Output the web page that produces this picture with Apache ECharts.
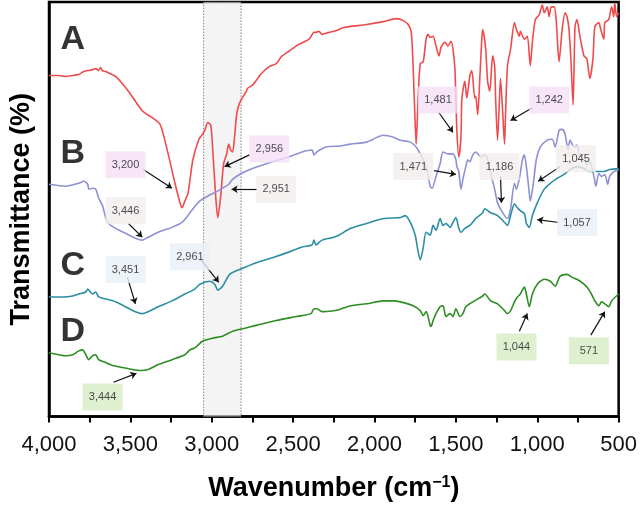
<!DOCTYPE html>
<html><head><meta charset="utf-8">
<script src="https://cdn.jsdelivr.net/npm/echarts@6/dist/echarts.min.js"></script>
<style>html,body{margin:0;padding:0;background:#fff}#c{width:640px;height:507px}</style>
</head><body><div id="c"></div>
<script>
// ---- data: [wavenumber (cm-1), transmittance (arbitrary, offset spectra)] ----
const spectrumA = [[4000,348],[3939,348],[3896,347],[3854,348],[3817,349],[3787,352],[3762,353],[3732,354],[3713,355],[3695,353],[3683,356],[3671,353],[3652,352],[3591,347],[3512,332],[3427,312],[3366,305],[3317,298],[3268,268],[3226,238],[3195,218],[3183,213],[3165,220],[3146,228],[3116,262],[3079,283],[3061,287],[3043,292],[3024,300],[3006,297],[2994,272],[2976,225],[2963,203],[2945,225],[2927,258],[2908,268],[2896,278],[2884,272],[2872,270],[2860,285],[2847,308],[2829,320],[2787,332],[2780,335],[2750,338],[2695,350],[2646,357],[2604,360],[2573,367],[2524,373],[2463,380],[2402,385],[2372,392],[2360,392],[2341,393],[2323,390],[2280,392],[2232,394],[2189,397],[2049,400],[1945,403],[1866,406],[1823,404],[1793,400],[1774,392],[1763,358],[1750,298],[1744,278],[1732,325],[1719,360],[1701,362],[1683,385],[1671,390],[1658,387],[1640,388],[1622,378],[1604,368],[1591,377],[1567,382],[1549,378],[1530,383],[1518,375],[1506,355],[1494,292],[1482,265],[1469,285],[1463,325],[1445,342],[1433,325],[1414,348],[1402,353],[1384,325],[1378,327],[1366,308],[1353,345],[1341,385],[1335,395],[1317,375],[1305,342],[1292,332],[1274,368],[1262,358],[1256,325],[1244,282],[1232,325],[1226,345],[1213,312],[1201,278],[1195,308],[1183,358],[1164,375],[1140,402],[1128,395],[1110,388],[1104,393],[1079,385],[1061,388],[1043,358],[1030,382],[1012,405],[988,410],[969,420],[957,412],[939,418],[927,408],[914,418],[896,418],[884,405],[866,362],[847,395],[829,412],[817,408],[805,395],[792,360],[780,318],[768,398],[756,405],[738,388],[713,368],[695,365],[677,345],[658,365],[646,398],[622,402],[610,395],[591,385],[585,402],[561,405],[543,418],[530,408],[524,422],[512,408],[500,412]];
const spectrumB = [[4000,237],[3896,235],[3817,238],[3787,240],[3762,237],[3756,232],[3732,233],[3713,232],[3695,223],[3671,215],[3652,203],[3634,197],[3591,192],[3530,187],[3469,182],[3427,180],[3390,183],[3329,188],[3244,193],[3183,198],[3146,205],[3134,208],[3073,220],[3012,226],[2963,230],[2933,233],[2896,237],[2872,242],[2829,247],[2750,253],[2628,260],[2524,265],[2445,270],[2384,272],[2372,267],[2354,270],[2299,275],[2219,276],[2146,278],[2049,280],[1945,287],[1884,285],[1841,282],[1780,280],[1744,275],[1719,268],[1683,255],[1658,235],[1646,233],[1622,245],[1597,258],[1579,270],[1549,268],[1518,268],[1500,262],[1494,255],[1482,250],[1469,232],[1457,242],[1439,255],[1427,262],[1414,260],[1396,267],[1378,270],[1347,265],[1323,267],[1305,262],[1286,248],[1262,232],[1244,218],[1213,208],[1183,202],[1164,212],[1140,238],[1128,232],[1110,243],[1091,262],[1079,267],[1067,255],[1049,228],[1043,220],[1024,238],[1006,262],[982,275],[939,282],[908,283],[890,275],[866,292],[847,293],[829,288],[811,272],[799,282],[774,275],[756,277],[738,265],[713,268],[695,257],[677,260],[652,245],[640,235],[622,248],[604,245],[585,247],[567,237],[555,245],[530,250],[512,251],[500,252]];
const spectrumC = [[4000,122],[3915,122],[3854,123],[3817,125],[3774,127],[3762,130],[3732,125],[3713,127],[3695,122],[3652,120],[3591,117],[3530,112],[3469,107],[3427,105],[3390,107],[3329,112],[3244,118],[3165,125],[3104,130],[3073,135],[3012,138],[2982,135],[2963,129],[2933,133],[2890,145],[2829,150],[2726,157],[2628,162],[2524,168],[2445,173],[2384,175],[2372,180],[2360,175],[2323,180],[2250,183],[2219,185],[2146,192],[2049,197],[1945,202],[1841,203],[1811,205],[1780,198],[1750,185],[1732,168],[1719,160],[1701,172],[1683,188],[1658,185],[1640,195],[1622,190],[1597,202],[1579,195],[1561,197],[1536,193],[1518,198],[1500,203],[1482,192],[1469,188],[1445,192],[1414,195],[1378,202],[1335,208],[1323,212],[1286,208],[1244,205],[1201,198],[1183,195],[1164,205],[1140,217],[1122,213],[1104,210],[1079,207],[1067,197],[1049,193],[1030,205],[1000,218],[957,232],[920,238],[878,243],[835,247],[799,252],[756,255],[713,253],[677,250],[634,250],[591,250],[555,252],[500,253]];
const spectrumD = [[4000,65],[3939,63],[3896,62],[3854,63],[3817,67],[3793,68],[3774,63],[3756,58],[3732,62],[3713,63],[3695,58],[3652,55],[3610,52],[3549,50],[3488,48],[3439,47],[3390,48],[3329,53],[3244,58],[3165,63],[3134,68],[3104,70],[3055,77],[2994,80],[2933,82],[2872,87],[2726,93],[2604,98],[2482,102],[2390,105],[2372,110],[2354,110],[2323,107],[2250,108],[2219,109],[2146,113],[2049,115],[1945,118],[1884,118],[1841,117],[1763,113],[1719,108],[1701,103],[1683,107],[1658,93],[1652,92],[1640,98],[1622,105],[1597,112],[1579,113],[1561,102],[1536,105],[1518,102],[1500,110],[1475,102],[1457,105],[1439,112],[1396,117],[1335,123],[1323,125],[1286,118],[1244,115],[1201,108],[1183,105],[1164,108],[1140,117],[1122,122],[1104,125],[1079,132],[1067,125],[1049,112],[1030,125],[1000,135],[957,140],[920,138],[890,133],[860,143],[817,145],[786,142],[756,140],[713,135],[677,128],[646,118],[622,113],[604,117],[585,115],[561,112],[543,118],[500,125]];

const spectrumNames = ['A', 'B', 'C', 'D'];
const letterAnchors = [[3854,385],[3854,268],[3854,154],[3854,87]];
const highlightRange = [3050, 2820];

// peak annotations: label text, spectrum, label anchor, arrow start, arrow tip
const annText = ['3,200','2,956','2,951','3,446','1,481','1,242','1,471','1,186','1,045','1,057','3,451','2,961','3,444','1,044','571'];
const annSpectrum = ['A','A','B','B','A','A','B','B','B','C','C','C','D','D','D'];
const annBox = [[3530,257],[2646,273],[2604,232],[3530,210],[1610,323],[927,323],[1762,255],[1232,255],[762,263],[756,198],[3530,150],[3134,163],[3671,20],[1128,71],[683,67]];
const annFrom = [[3421,252],[2768,267],[2720,232],[3512,197],[1604,310],[1030,315],[1634,251],[1226,245],[860,255],[866,198],[3518,142],[3067,160],[3604,35],[1110,87],[671,83]];
const annTo = [[3244,233],[2921,255],[2878,232],[3427,183],[1518,290],[1164,302],[1500,247],[1220,218],[994,240],[1000,201],[3469,115],[2957,137],[3463,44],[1061,105],[585,107]];

// ---- styling ----
const lineColors = {A:'#ef4b4d', B:'#8e90d4', C:'#2c8ea2', D:'#2e8c24'};
const boxColors = {A:'#f4e0f6', B:'#f2eded', C:'#eaeff7', D:'#d7ecc6'};
const FONT = 'Liberation Sans, Arial, sans-serif';
const fmt = v => String(v).replace(/\B(?=(\d{3})+(?!\d))/g, ',');

const spectra = [spectrumA, spectrumB, spectrumC, spectrumD];
const series = spectra.map((d, i) => {
  const s = {
    name: spectrumNames[i], type: 'line', data: d, showSymbol: false, symbol: 'none',
    smooth: 0.25, silent: true, z: 3,
    lineStyle: {color: lineColors[spectrumNames[i]], width: 1.6}
  };
  if (i === 0) {
    s.markArea = {
      silent: true,
      itemStyle: {color: 'rgba(238,238,238,0.65)', borderColor: '#666', borderWidth: 0.8, borderType: [1.5, 1.5]},
      data: [[{xAxis: highlightRange[0]}, {xAxis: highlightRange[1]}]]
    };
  }
  return s;
});

series.push({
  type: 'scatter', z: 5, silent: true,
  symbol: 'rect', symbolSize: [40, 27],
  data: annText.map((t, i) => ({
    value: annBox[i],
    itemStyle: {color: boxColors[annSpectrum[i]]},
    label: {show: true, position: 'inside', formatter: t, color: '#222', fontSize: 11, fontFamily: FONT}
  })),
  markLine: {
    silent: true, symbol: ['none', 'arrow'], symbolSize: 6, animation: false,
    lineStyle: {color: '#111', width: 1.2, type: 'solid'},
    label: {show: false},
    data: annFrom.map((f, i) => [{coord: f}, {coord: annTo[i]}])
  }
});

series.push({
  type: 'scatter', z: 6, silent: true, symbolSize: 0,
  data: letterAnchors.map((p, i) => ({value: p, name: spectrumNames[i]})),
  label: {show: true, position: 'inside', formatter: p => p.name, color: '#000',
          fontSize: 34, fontWeight: 'bold', fontFamily: FONT}
});

const chart = echarts.init(document.getElementById('c'), null, {renderer: 'canvas'});
chart.setOption({
  animation: false,
  backgroundColor: '#fff',
  grid: {left: 47, right: 17, top: 2, bottom: 82, show: true, borderColor: '#000', borderWidth: 2.5, backgroundColor: 'transparent'},
  xAxis: {
    type: 'value', inverse: true, min: 500, max: 4000, interval: 500,
    name: 'Wavenumber (cm{sup|\u22121})', nameLocation: 'middle', nameGap: 58,
    nameTextStyle: {fontSize: 27, fontWeight: 'bold', color: '#000', fontFamily: FONT,
      rich: {sup: {fontSize: 16, fontWeight: 'bold', verticalAlign: 'top', padding: [0,0,12,0], color: '#000', fontFamily: FONT}}},
    axisLine: {show: true, onZero: false, lineStyle: {color: '#000', width: 2.5}},
    axisTick: {show: true, length: 6, lineStyle: {color: '#000', width: 2}},
    minorTick: {show: true, splitNumber: 2, length: 6, lineStyle: {color: '#000', width: 2}},
    axisLabel: {fontSize: 22, color: '#111', margin: 17, fontFamily: FONT, formatter: fmt},
    splitLine: {show: false}
  },
  yAxis: {
    type: 'value', min: 0, max: 423,
    name: 'Transmittance (%)', nameLocation: 'middle', nameGap: 14,
    nameTextStyle: {fontSize: 27, fontWeight: 'bold', color: '#000', fontFamily: FONT},
    axisLine: {show: true, lineStyle: {color: '#000', width: 2.5}},
    axisTick: {show: false}, axisLabel: {show: false}, splitLine: {show: false}
  },
  series: series
});
</script>
</body></html>
